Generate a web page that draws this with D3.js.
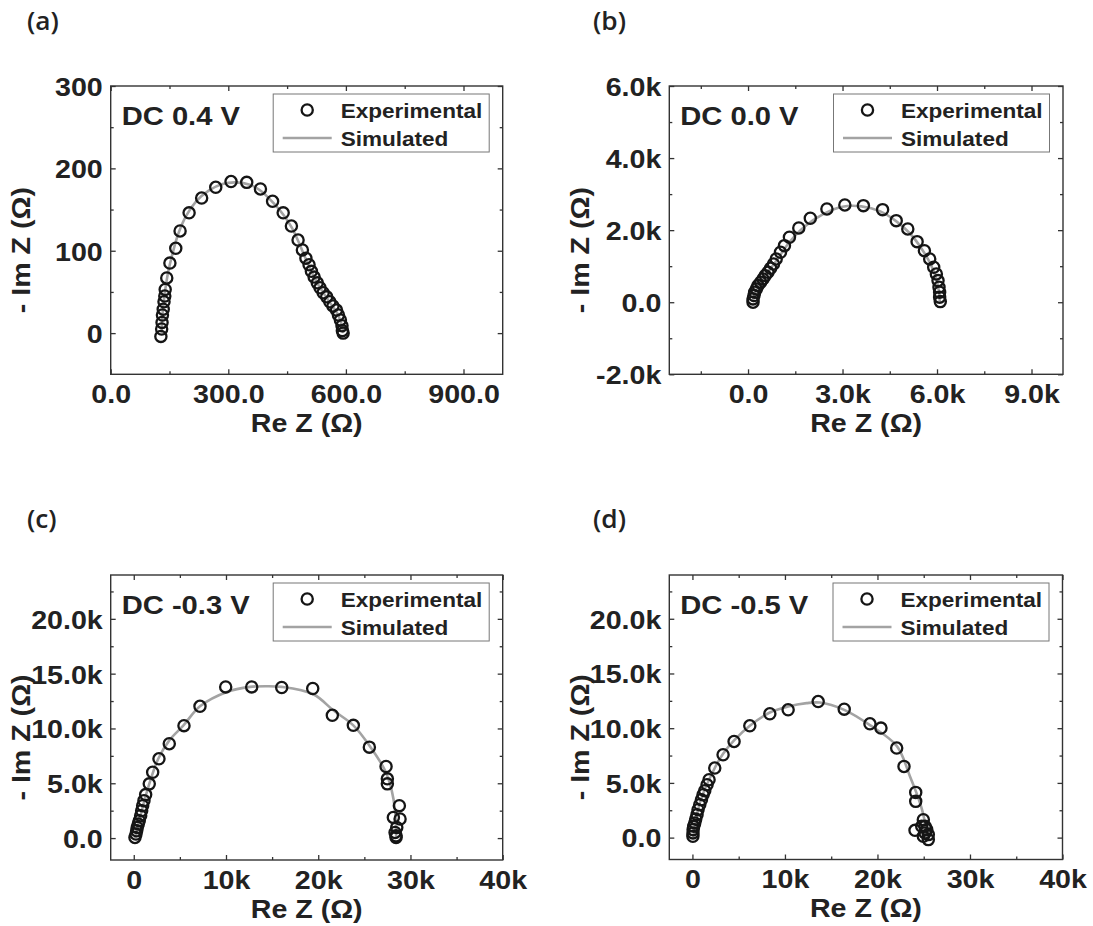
<!DOCTYPE html>
<html>
<head>
<meta charset="utf-8">
<script src="https://cdn.jsdelivr.net/npm/d3@7/dist/d3.min.js"></script>
<style>
  html, body { margin: 0; padding: 0; background: #ffffff; }
  svg { display: block; }
  .tick text, .lbl { font-family: "Liberation Sans", Arial, sans-serif; font-weight: bold; fill: #222; }
</style>
</head>
<body>
<svg id="fig" width="1093" height="926"></svg>
<script>
// ---- Panel captions ----
const panelLetters = ["(a)", "(b)", "(c)", "(d)"];
const biasLabels = ["DC 0.4 V", "DC 0.0 V", "DC -0.3 V", "DC -0.5 V"];
const legendNames = ["Experimental", "Simulated"];
const xTitle = "Re Z (\u03A9)";
const yTitle = "- Im Z (\u03A9)";

// ---- (a) DC 0.4 V : [Re Z, -Im Z] in ohm ----
const expA = [[128,-4],[130,5],[131,13],[132,22],[134,29],[136,38],[138,45],[139,53],[143,67],[151,85],
  [166,103],[177,124],[200,146],[232,164],[268,177],[307,184],[347,183],[382,175],[413,160],[440,146],
  [461,130],[478,113],[489,101],[498,91],[506,83],[512,75],[519,68],[527,61],[534,55],[542,49],
  [551,44],[559,38],[567,33],[576,28],[581,22],[586,16],[590,9],[591,3],[593,0]];
const simA = [[130,0],[131,15],[134,32],[139,52],[147,75],[158,97],[172,120],[192,142],[218,160],[250,173],
  [285,181],[320,183],[355,180],[385,172],[415,158],[440,144],[462,128],[480,110],[495,93],[510,77],
  [528,60],[548,45],[565,33],[578,24],[586,15],[591,6],[593,0]];
const xDomA = [0, 1000], yDomA = [-50, 300];
const xTicksA = [0, 300, 600, 900], xTickTextA = ["0.0", "300.0", "600.0", "900.0"], xMinorA = [150, 450, 750];
const yTicksA = [0, 100, 200, 300], yTickTextA = ["0", "100", "200", "300"], yMinorA = [50, 150, 250];

// ---- (b) DC 0.0 V ----
const expB = [[158,0],[158,92],[189,184],[210,277],[262,369],[316,461],[400,555],[474,646],[546,738],[632,832],
  [716,943],[808,1062],[894,1201],[1030,1387],[1156,1570],[1314,1803],[1611,2061],[1977,2330],[2504,2588],[3073,2699],
  [3663,2680],[4272,2569],[4705,2264],[5072,2033],[5368,1681],[5600,1431],[5768,1201],[5895,971],[5979,785],[6032,600],
  [6063,416],[6083,277],[6083,139],[6104,17]];
const simB = [[150,0],[200,200],[350,500],[600,800],[900,1150],[1300,1650],[1800,2100],[2400,2450],[3000,2650],[3600,2660],
  [4200,2520],[4700,2250],[5150,1900],[5500,1500],[5800,1050],[5980,650],[6060,300],[6090,0]];
const xDomB = [-2500, 10000], yDomB = [-2000, 6000];
const xTicksB = [0, 3000, 6000, 9000], xTickTextB = ["0.0", "3.0k", "6.0k", "9.0k"], xMinorB = [-1500, 1500, 4500, 7500];
const yTicksB = [-2000, 0, 2000, 4000, 6000], yTickTextB = ["-2.0k", "0.0", "2.0k", "4.0k", "6.0k"], yMinorB = [-1000, 1000, 3000, 5000];

// ---- (c) DC -0.3 V ----
const expC = [[130,55],[239,366],[315,668],[380,971],[488,1282],[597,1584],[748,2042],[857,2500],[965,2958],[1106,3416],
  [1290,3965],[1681,4945],[2050,6007],[2733,7234],[3850,8608],[5445,10256],[7180,12024],[9967,13791],[12787,13791],[16041,13736],
  [19403,13645],[21529,11200],[23807,10284],[25542,8297],[27354,6529],[27495,5403],[27495,4945],[28796,2958],[28145,1886],[28872,1740],
  [28514,971],[28330,513],[28438,211],[28438,55]];
const simC = [[150,0],[673,1886],[1681,4945],[2657,7234],[3850,8914],[5391,10284],[7180,12024],[10098,13333],[12603,13791],[14414,13855],
  [16041,13791],[19468,13120],[21638,11658],[23807,10284],[25542,8450],[27245,6163],[27972,4331],[28330,2500],[28450,0]];
const xDomC = [-2500, 40000], yDomC = [-2000, 24000];
const xTicksC = [0, 10000, 20000, 30000, 40000], xTickTextC = ["0", "10k", "20k", "30k", "40k"], xMinorC = [5000, 15000, 25000, 35000];
const yTicksC = [0, 5000, 10000, 15000, 20000], yTickTextC = ["0.0", "5.0k", "10.0k", "15.0k", "20.0k"], yMinorC = [2500, 7500, 12500, 17500, 22500];

// ---- (d) DC -0.5 V ----
const expD = [[50,119],[60,429],[75,730],[141,1031],[249,1341],[357,1706],[498,2099],[606,2555],[790,3011],[974,3467],
  [1147,3923],[1331,4288],[1580,4836],[1797,5292],[2413,6359],[3312,7573],[4502,8787],[6201,10219],[8366,11314],[10346,11679],
  [13593,12436],[16407,11740],[19188,10401],[20379,10009],[22078,8184],[22868,6505],[24134,4133],[24134,3312],[24058,666],[24957,1642],
  [25141,1031],[25325,730],[25498,274],[24957,119],[25498,-182],[25141,429],[24784,1031]];
const simD = [[100,0],[790,3163],[2413,6359],[3312,7664],[4502,8878],[6201,10219],[8366,11436],[10346,11983],[12338,12290],[13777,12345],
  [16407,11679],[19188,10280],[22078,8380],[23517,5593],[24600,3163],[25065,1642],[25150,0]];
const xDomD = xDomC, yDomD = yDomC;
const xTicksD = xTicksC, xTickTextD = xTickTextC, xMinorD = xMinorC;
const yTicksD = yTicksC, yTickTextD = yTickTextC, yMinorD = yMinorC;

// ---- layout of the four frames ----
const frames = [
  { x0: 110.7, x1: 502.7, y0: 86, y1: 374.3 },
  { x0: 669.3, x1: 1063, y0: 86, y1: 374.3 },
  { x0: 110.7, x1: 502.7, y0: 575, y1: 860 },
  { x0: 669.3, x1: 1062.5, y0: 575, y1: 859.5 }
];
const letterPos = [[27, 30], [593, 30], [27, 528], [593, 528]];

const panels = [
  { exp: expA, sim: simA, xd: xDomA, yd: yDomA, xt: xTicksA, xl: xTickTextA, xm: xMinorA, yt: yTicksA, yl: yTickTextA, ym: yMinorA },
  { exp: expB, sim: simB, xd: xDomB, yd: yDomB, xt: xTicksB, xl: xTickTextB, xm: xMinorB, yt: yTicksB, yl: yTickTextB, ym: yMinorB },
  { exp: expC, sim: simC, xd: xDomC, yd: yDomC, xt: xTicksC, xl: xTickTextC, xm: xMinorC, yt: yTicksC, yl: yTickTextC, ym: yMinorC },
  { exp: expD, sim: simD, xd: xDomD, yd: yDomD, xt: xTicksD, xl: xTickTextD, xm: xMinorD, yt: yTicksD, yl: yTickTextD, ym: yMinorD }
];

const svg = d3.select("#fig");
const SX = 1.1;           // horizontal stretch of the bold lettering
const frameColor = "#333";
const simColor = "#a3a3a3";
const markColor = "#151515";
const markR = 5.6, markW = 2.3;

panels.forEach((p, i) => {
  const f = frames[i];
  const x = d3.scaleLinear().domain(p.xd).range([f.x0, f.x1]);
  const y = d3.scaleLinear().domain(p.yd).range([f.y1, f.y0]);
  const g = svg.append("g");

  // panel letter
  svg.append("text").attr("class", "lbl")
    .attr("transform", `translate(${letterPos[i][0]},${letterPos[i][1]}) scale(1.05,1)`)
    .style("font-family", "'Open Sans', sans-serif").style("font-weight", 600)
    .style("font-size", "25px").text(panelLetters[i]);

  // major axes with labels (ticks point inward)
  const fmtX = d => p.xl[p.xt.indexOf(d)];
  const fmtY = d => p.yl[p.yt.indexOf(d)];
  const styleAxis = (sel) => {
    sel.select(".domain").remove();
    sel.selectAll("line").attr("stroke", frameColor).attr("stroke-width", 1.3);
    sel.selectAll("text").style("font-size", "26px");
  };
  const bottom = g.append("g").attr("transform", `translate(0,${f.y1})`)
    .call(d3.axisBottom(x).tickValues(p.xt).tickFormat(fmtX).tickSize(-5).tickPadding(0)).call(styleAxis);
  bottom.selectAll("text").attr("dy", null).attr("y", 29).attr("transform", `scale(${SX},1)`);
  const left = g.append("g").attr("transform", `translate(${f.x0},0)`)
    .call(d3.axisLeft(y).tickValues(p.yt).tickFormat(fmtY).tickSize(-5).tickPadding(0)).call(styleAxis);
  left.selectAll("text").attr("dy", "0.36em").attr("x", -8 / SX).attr("transform", `scale(${SX},1)`);
  g.append("g").attr("transform", `translate(0,${f.y0})`)
    .call(d3.axisTop(x).tickValues(p.xt).tickFormat("").tickSize(-5)).call(styleAxis);
  g.append("g").attr("transform", `translate(${f.x1},0)`)
    .call(d3.axisRight(y).tickValues(p.yt).tickFormat("").tickSize(-5)).call(styleAxis);

  // minor ticks
  [[d3.axisBottom(x), f.y1, "x"], [d3.axisTop(x), f.y0, "x"], [d3.axisLeft(y), f.x0, "y"], [d3.axisRight(y), f.x1, "y"]]
    .forEach(([ax, pos, dir]) => {
      const vals = dir === "x" ? p.xm : p.ym;
      g.append("g").attr("transform", dir === "x" ? `translate(0,${pos})` : `translate(${pos},0)`)
        .call(ax.tickValues(vals).tickFormat("").tickSize(-3)).call(styleAxis);
    });

  // frame
  g.append("rect").attr("x", f.x0).attr("y", f.y0)
    .attr("width", f.x1 - f.x0).attr("height", f.y1 - f.y0)
    .attr("fill", "none").attr("stroke", frameColor).attr("stroke-width", 1.4);

  // simulated curve
  const line = d3.line().x(d => x(d[0])).y(d => y(d[1])).curve(d3.curveCatmullRom.alpha(0.5));
  g.append("path").datum(p.sim).attr("d", line)
    .attr("fill", "none").attr("stroke", simColor).attr("stroke-width", 2.6);

  // experimental points
  g.append("g").selectAll("circle").data(p.exp).join("circle")
    .attr("cx", d => x(d[0])).attr("cy", d => y(d[1])).attr("r", markR)
    .attr("fill", "none").attr("stroke", markColor).attr("stroke-width", markW);

  // bias label
  g.append("text").attr("class", "lbl")
    .attr("transform", `translate(${f.x0 + 11},${f.y0 + 39}) scale(${SX},1)`)
    .style("font-size", "26.5px").text(biasLabels[i]);

  // legend
  const bx = f.x1 - 13.5 - 216, by = f.y0 + 8;
  const lg = g.append("g");
  lg.append("rect").attr("x", bx).attr("y", by).attr("width", 216).attr("height", 58)
    .attr("fill", "#fff").attr("stroke", "#777").attr("stroke-width", 1);
  lg.append("circle").attr("cx", bx + 34).attr("cy", by + 16).attr("r", markR)
    .attr("fill", "none").attr("stroke", markColor).attr("stroke-width", markW);
  lg.append("line").attr("x1", bx + 9.5).attr("x2", bx + 58.5).attr("y1", by + 44).attr("y2", by + 44)
    .attr("stroke", simColor).attr("stroke-width", 2.6);
  legendNames.forEach((name, k) => {
    lg.append("text").attr("class", "lbl")
      .attr("transform", `translate(${bx + 67.5},${by + (k === 0 ? 23.5 : 51.5)}) scale(${SX},1)`)
      .style("font-size", "20.5px").text(name);
  });

  // axis titles
  g.append("text").attr("class", "lbl").attr("text-anchor", "middle")
    .attr("transform", `translate(${(f.x0 + f.x1) / 2},${f.y1 + 57.5}) scale(${SX},1)`)
    .style("font-size", "26px").text(xTitle);
  g.append("text").attr("class", "lbl").attr("text-anchor", "middle")
    .attr("transform", `translate(${f.x0 - 80.5},${(f.y0 + f.y1) / 2 + 20}) rotate(-90) scale(${SX},1)`)
    .style("font-size", "26px").text(yTitle);
});
</script>
</body>
</html>
